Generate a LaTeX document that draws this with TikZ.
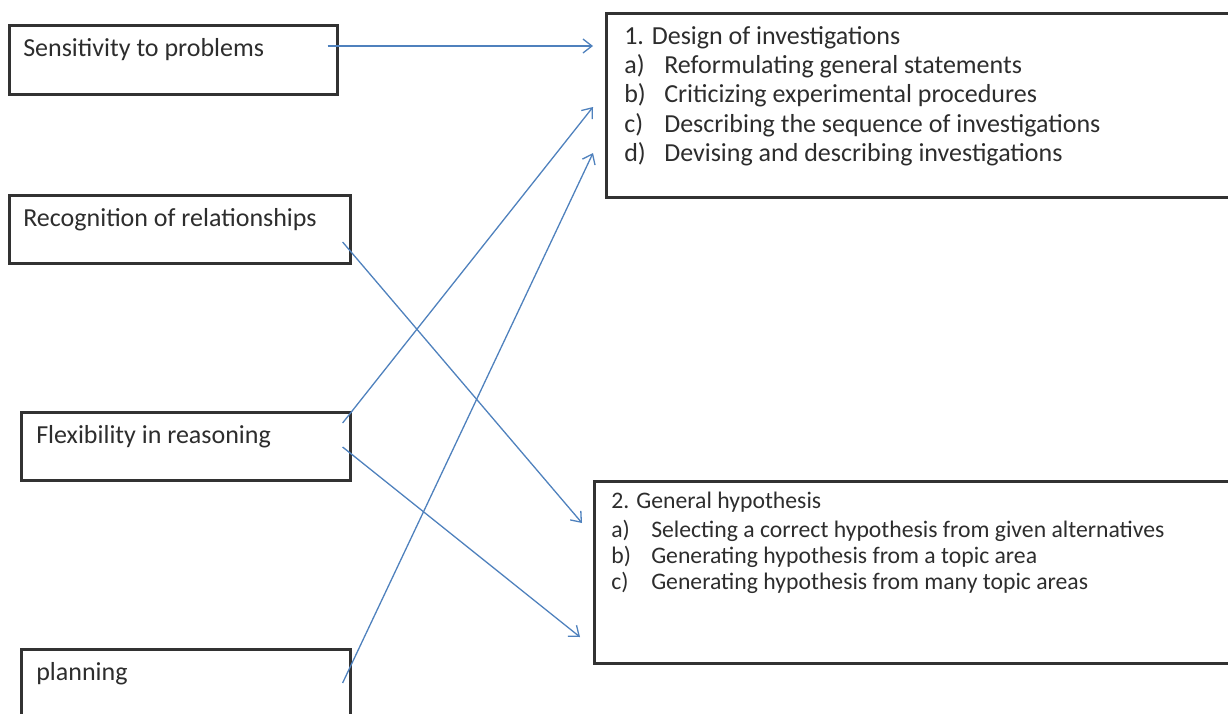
\documentclass[tikz,border=0pt]{standalone}
\usepackage{fontspec}
\setmainfont{Carlito}
\usetikzlibrary{arrows.meta}

\definecolor{linkblue}{RGB}{79,129,189}
\definecolor{boxgray}{RGB}{50,50,50}
\definecolor{textgray}{RGB}{45,45,45}

% top aligned box content: height, width, text
\newcommand{\boxtext}[3]{\parbox[t][#1][t]{#2}{\rule{0pt}{19pt}#3}}
\newcommand{\itemlabel}[1]{\makebox[40pt][l]{#1}}

\tikzset{
  skill/.style={draw=boxgray, line width=2.6pt, anchor=north west, inner xsep=14pt, inner ysep=12pt,
    text=textgray, font=\fontsize{26}{29}\selectfont},
  process/.style={draw=boxgray, line width=2.6pt, anchor=north west, inner xsep=18pt, inner ysep=12pt,
    text=textgray, font=\fontsize{26}{29.3}\selectfont},
  link/.style={draw=linkblue, line width=1.3pt, -{Straight Barb[length=9pt,width=14pt]}}
}

\begin{document}
\begin{tikzpicture}[x=1pt, y=-1pt]
  \useasboundingbox (0,0) rectangle (1228,713);

  % Define nodes
  \node[skill] (sens) at (8,24) {\boxtext{45pt}{300pt}{Sensitivity to problems}};
  \node[skill] (recog) at (8,194) {\boxtext{44pt}{313pt}{Recognition of relationships}};
  \node[skill, inner xsep=15pt] (flex) at (20,411) {\boxtext{44pt}{299pt}{Flexibility in reasoning}};
  \node[skill, inner xsep=15pt] (plan) at (20,648) {\boxtext{44pt}{299pt}{planning}};

  \node[process] (design) at (605,12) {\boxtext{160pt}{599pt}{1. Design of investigations\\
    \itemlabel{a)}Reformulating general statements\\
    \itemlabel{b)}Criticizing experimental procedures\\
    \itemlabel{c)}Describing the sequence of investigations\\
    \itemlabel{d)}Devising and describing investigations}};
  \node[process, inner xsep=17pt, inner ysep=8pt, font=\fontsize{23.7}{26}\selectfont] (hyp) at (593,480)
    {\boxtext{166pt}{613pt}{2. General hypothesis\\[3pt]
    \itemlabel{a)}Selecting a correct hypothesis from given alternatives\\
    \itemlabel{b)}Generating hypothesis from a topic area\\
    \itemlabel{c)}Generating hypothesis from many topic areas}};

  % Connect the nodes
  \draw[link] ([xshift=-11pt, yshift=-22pt]sens.north east) -- ([xshift=-12pt, yshift=-34pt]design.north west);
  \draw[link] ([xshift=-9pt, yshift=-48pt]recog.north east) -- ([xshift=-11pt, yshift=-43pt]hyp.north west);
  \draw[link] ([xshift=-9pt, yshift=-12pt]flex.north east) -- ([xshift=-12pt, yshift=-95pt]design.north west);
  \draw[link] ([xshift=-9pt, yshift=-36pt]flex.north east) -- ([xshift=-13pt, yshift=-157pt]hyp.north west);
  \draw[link] ([xshift=-9pt, yshift=-35pt]plan.north east) -- ([xshift=-12pt, yshift=-141pt]design.north west);

\end{tikzpicture}
\end{document}
